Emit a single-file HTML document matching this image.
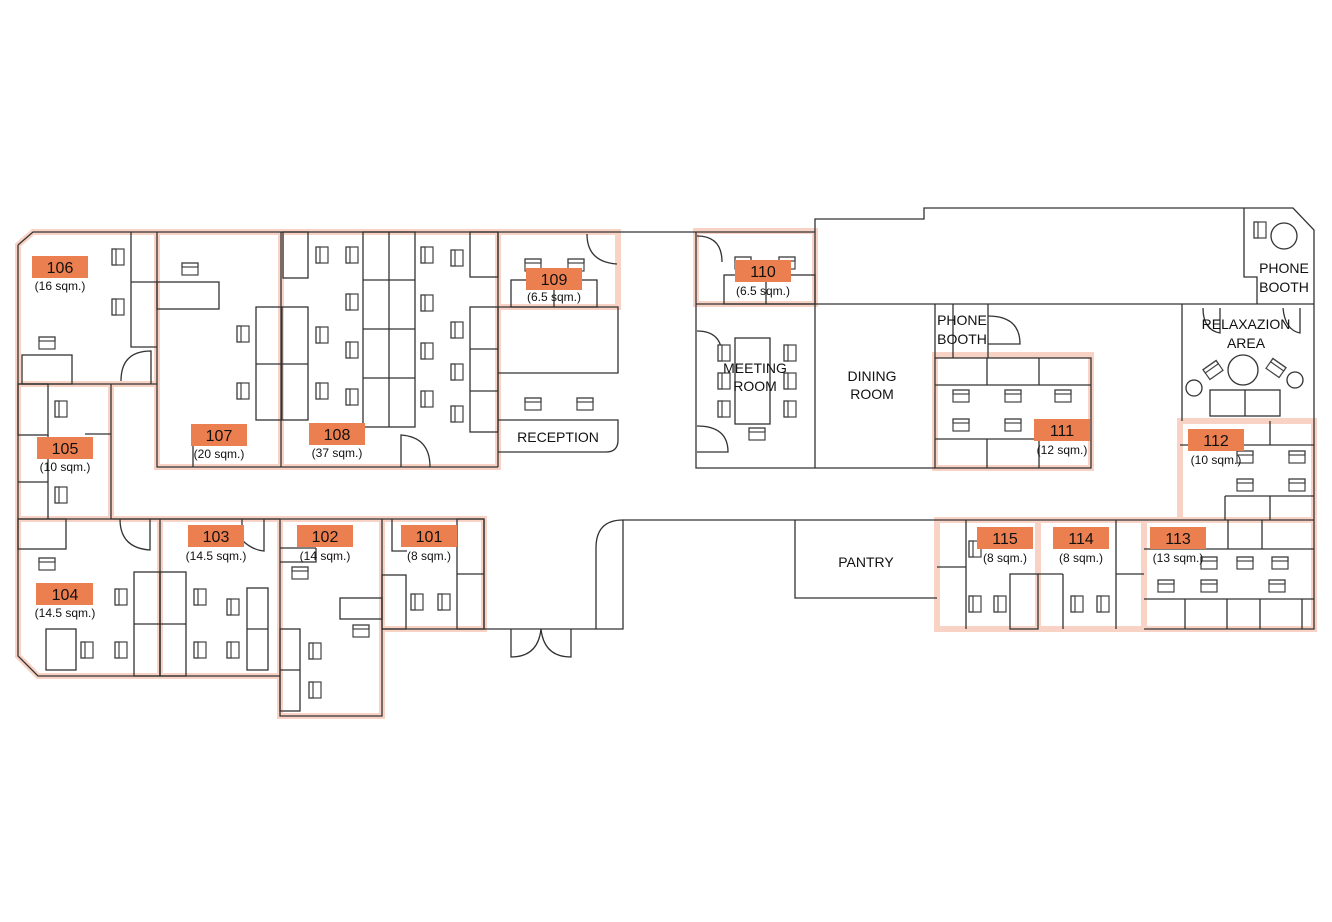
<!DOCTYPE html>
<html><head><meta charset="utf-8"><style>
html,body{margin:0;padding:0;background:#fff;}
svg{display:block;}
text{font-family:"Liberation Sans",sans-serif;fill:#111;}
.n{font-size:16px;text-anchor:middle;}
.s{font-size:12px;text-anchor:middle;}
.l{font-size:14px;text-anchor:middle;}
.w{fill:none;stroke:#333;stroke-width:1.3;}
.h{fill:none;stroke:#f8d3c5;stroke-width:6;}
.b{fill:#ec7f4f;}
</style></head><body>
<svg width="1332" height="922" viewBox="0 0 1332 922" xmlns="http://www.w3.org/2000/svg">
<defs>
<g id="cv"><rect x="-6" y="-8" width="12" height="16" fill="#fff" stroke="#444" stroke-width="1.2"/><rect x="-6" y="-8" width="4" height="16" fill="none" stroke="#444" stroke-width="1.2"/></g>
<g id="ch"><rect x="-8" y="-6" width="16" height="12" fill="#fff" stroke="#444" stroke-width="1.2"/><rect x="-8" y="-6" width="16" height="4" fill="none" stroke="#444" stroke-width="1.2"/></g>
</defs>

<g class="h">
<path d="M18,245 L33,232 L157,232 L157,384 L18,384 Z"/>
<rect x="157" y="232" width="124" height="235"/>
<rect x="281" y="232" width="217" height="235"/>
<path d="M498,232 L618,232 L618,307 L498,307 Z"/>
<rect x="18" y="384" width="93" height="135"/>
<path d="M18,519 L160,519 L160,676 L38,676 L18,656 Z"/>
<rect x="160" y="519" width="120" height="157"/>
<rect x="280" y="519" width="102" height="197"/>
<rect x="382" y="519" width="102" height="110"/>
<rect x="696" y="231" width="119" height="73"/>
<rect x="935" y="355" width="156" height="113"/>
<rect x="1180" y="421" width="134" height="99"/>
<rect x="937" y="520" width="101" height="109"/>
<rect x="1038" y="520" width="106" height="109"/>
<rect x="1144" y="520" width="170" height="109"/>
</g>

<g class="w">
<path d="M18,245 L33,232 L617,232 L696,232"/>
<path d="M18,245 L18,656 L38,676 L280,676 L280,716 L382,716 L382,629 L484,629 L484,519"/>
<path d="M484,629 L623,629 L623,520 L1314,520"/>
<path d="M623,520 Q596,520 596,548 L596,629"/>
<path d="M815,304 L815,219 L924,219 L924,208 L1293,208 L1314,230 L1314,629 L1144,629"/>
<path d="M696,232 L815,232"/>
<path d="M696,232 L696,468 L935,468"/>
<path d="M696,304 L1314,304"/>
<path d="M815,304 L815,468"/>
<rect x="935" y="358" width="156" height="110"/>
<path d="M935,304 L935,358 M953,304 L953,358 M988,304 L988,358"/>
<path d="M988,316 Q1020,316 1020,344 L988,344"/>
<path d="M1182,304 L1182,421"/>
<path d="M1244,208 L1244,277 L1257,277 L1257,304"/>
<path d="M157,232 L157,384 L18,384 M111,384 L111,519 L18,519 M157,384 L157,467 L498,467 M281,232 L281,467 M498,232 L498,467 M160,519 L160,676 M280,519 L280,676 M382,519 L382,629 M18,519 L280,519"/>
<path d="M111,519 L484,519"/>
<path d="M151,384 L151,351 Q121,351 121,381"/>
<path d="M193,467 L193,424"/>
<path d="M401,467 L401,435 Q430,437 430,467"/>
<path d="M120,519 Q120,548 150,550 L150,519"/>
<path d="M242,519 L242,540 Q252,550 264,551 L264,519"/>
<path d="M498,307 L618,307 L618,373 L498,373"/>
<path d="M498,420 L618,420 L618,440 Q618,452 606,452 L498,452"/>
<path d="M587,234 Q587,262 617,264"/>
<path d="M511,629 L511,657 Q538,657 541,629 Q544,657 571,657 L571,629"/>
<path d="M697,236 Q722,236 722,262 M697,331 Q722,331 722,356 M697,426 Q728,426 728,452 L697,452"/>
<path d="M131,232 L131,282 L157,282 M131,282 L131,347 L157,347"/>
<rect x="22" y="355" width="50" height="29"/>
<rect x="157" y="282" width="62" height="27"/>
<rect x="256" y="307" width="52" height="113"/><path d="M256,364 L308,364 M282,307 L282,420"/>
<rect x="283" y="232" width="25" height="46"/>
<rect x="363" y="232" width="52" height="195"/><path d="M389,232 L389,427 M363,280 L415,280 M363,329 L415,329 M363,378 L415,378"/>
<rect x="470" y="232" width="28" height="45"/>
<rect x="470" y="307" width="28" height="125"/><path d="M470,349 L498,349 M470,391 L498,391"/>
<rect x="511" y="280" width="86" height="27"/><path d="M554,280 L554,307"/>
<rect x="18" y="384" width="30" height="51"/><path d="M48,435 L48,519 M18,482 L48,482 M85,434 L111,434"/>
<rect x="18" y="519" width="48" height="30"/>
<rect x="46" y="629" width="30" height="41"/>
<rect x="134" y="572" width="26" height="104"/><path d="M134,624 L160,624"/>
<rect x="160" y="572" width="26" height="104"/><path d="M160,624 L186,624"/>
<rect x="247" y="588" width="21" height="82"/><path d="M247,629 L268,629"/>
<path d="M280,562 L316,562 L316,548 M280,548 L316,548"/>
<rect x="340" y="598" width="42" height="21"/>
<rect x="280" y="629" width="20" height="82"/><path d="M280,670 L300,670"/>
<rect x="382" y="575" width="24" height="54"/>
<rect x="457" y="519" width="27" height="110"/><path d="M457,574 L484,574"/>
<path d="M392,519 L392,551 L407,551"/>
<rect x="724" y="275" width="91" height="29"/><path d="M766,275 L766,304"/>
<rect x="735" y="338" width="35" height="86"/>
<path d="M935,385 L1091,385 M935,439 L1034,439 M987,358 L987,385 M1039,358 L1039,385 M987,439 L987,468 M1039,441 L1039,468"/>
<path d="M1203,308 Q1203,330 1220,333 L1220,308 M1283,308 Q1285,330 1300,333 L1300,308"/>
<circle cx="1243" cy="370" r="15"/>
<circle cx="1194" cy="388" r="8"/><circle cx="1295" cy="380" r="8"/>
<rect x="1210" y="390" width="70" height="26"/><path d="M1245,390 L1245,416"/>
<circle cx="1284" cy="236" r="13"/>
<path d="M1180,445 L1314,445 M1270,421 L1270,445 M1225,496 L1314,496 M1225,496 L1225,520 M1270,496 L1270,520"/>
<path d="M795,520 L795,598 L937,598"/>
<path d="M937,567 L966,567 M966,520 L966,629"/>
<rect x="1010" y="574" width="28" height="55"/>
<path d="M1063,574 L1063,629 M1038,574 L1063,574 M1116,520 L1116,629 M1116,574 L1144,574"/>
<path d="M1144,549 L1314,549 M1228,520 L1228,549 M1262,520 L1262,549 M1144,599 L1314,599 M1185,599 L1185,629 M1227,599 L1227,629 M1260,599 L1260,629 M1302,599 L1302,629"/>
</g>

<g>
<use href="#cv" x="118" y="257"/><use href="#cv" x="118" y="307"/><use href="#ch" x="47" y="343"/>
<use href="#ch" x="190" y="269"/><use href="#cv" x="243" y="334"/><use href="#cv" x="243" y="391"/>
<use href="#cv" x="322" y="255"/><use href="#cv" x="352" y="255"/><use href="#cv" x="322" y="335"/><use href="#cv" x="322" y="391"/>
<use href="#cv" x="352" y="302"/><use href="#cv" x="352" y="350"/><use href="#cv" x="352" y="397"/>
<use href="#cv" x="427" y="255"/><use href="#cv" x="457" y="258"/><use href="#cv" x="427" y="303"/><use href="#cv" x="427" y="351"/><use href="#cv" x="427" y="399"/>
<use href="#cv" x="457" y="330"/><use href="#cv" x="457" y="372"/><use href="#cv" x="457" y="414"/>
<use href="#ch" x="533" y="404"/><use href="#ch" x="585" y="404"/>
<use href="#ch" x="533" y="265"/><use href="#ch" x="576" y="265"/>
<use href="#cv" x="61" y="409"/><use href="#cv" x="61" y="495"/>
<use href="#ch" x="47" y="564"/><use href="#cv" x="121" y="597"/><use href="#cv" x="87" y="650"/><use href="#cv" x="121" y="650"/>
<use href="#cv" x="200" y="597"/><use href="#cv" x="233" y="607"/><use href="#cv" x="200" y="650"/><use href="#cv" x="233" y="650"/>
<use href="#ch" x="300" y="573"/><use href="#ch" x="361" y="631"/><use href="#cv" x="315" y="651"/><use href="#cv" x="315" y="690"/>
<use href="#cv" x="417" y="602"/><use href="#cv" x="444" y="602"/>
<use href="#ch" x="743" y="263"/><use href="#ch" x="787" y="263"/>
<use href="#cv" x="724" y="353"/><use href="#cv" x="724" y="381"/><use href="#cv" x="724" y="409"/>
<use href="#cv" x="790" y="353"/><use href="#cv" x="790" y="381"/><use href="#cv" x="790" y="409"/><use href="#ch" x="757" y="434"/>
<use href="#ch" x="961" y="396"/><use href="#ch" x="1013" y="396"/><use href="#ch" x="1063" y="396"/><use href="#ch" x="961" y="425"/><use href="#ch" x="1013" y="425"/>
<use href="#cv" x="1260" y="230"/>
<use href="#ch" x="1213" y="370" transform="rotate(-35 1213 370)"/><use href="#ch" x="1276" y="368" transform="rotate(35 1276 368)"/>
<use href="#ch" x="1245" y="457"/><use href="#ch" x="1297" y="457"/><use href="#ch" x="1245" y="485"/><use href="#ch" x="1297" y="485"/>
<use href="#cv" x="975" y="549"/><use href="#cv" x="975" y="604"/><use href="#cv" x="1000" y="604"/>
<use href="#cv" x="1077" y="604"/><use href="#cv" x="1103" y="604"/>
<use href="#ch" x="1209" y="563"/><use href="#ch" x="1245" y="563"/><use href="#ch" x="1280" y="563"/>
<use href="#ch" x="1166" y="586"/><use href="#ch" x="1209" y="586"/><use href="#ch" x="1277" y="586"/>
</g>

<g>
<rect class="b" x="32" y="256" width="56" height="22"/><text class="n" x="60" y="273">106</text><text class="s" x="60" y="290">(16 sqm.)</text>
<rect class="b" x="191" y="424" width="56" height="22"/><text class="n" x="219" y="441">107</text><text class="s" x="219" y="458">(20 sqm.)</text>
<rect class="b" x="309" y="423" width="56" height="22"/><text class="n" x="337" y="440">108</text><text class="s" x="337" y="457">(37 sqm.)</text>
<rect class="b" x="526" y="268" width="56" height="22"/><text class="n" x="554" y="285">109</text><text class="s" x="554" y="301">(6.5 sqm.)</text>
<rect class="b" x="37" y="437" width="56" height="22"/><text class="n" x="65" y="454">105</text><text class="s" x="65" y="471">(10 sqm.)</text>
<rect class="b" x="36" y="583" width="57" height="22"/><text class="n" x="65" y="600">104</text><text class="s" x="65" y="617">(14.5 sqm.)</text>
<rect class="b" x="188" y="525" width="56" height="22"/><text class="n" x="216" y="542">103</text><text class="s" x="216" y="560">(14.5 sqm.)</text>
<rect class="b" x="297" y="525" width="56" height="22"/><text class="n" x="325" y="542">102</text><text class="s" x="325" y="560">(14 sqm.)</text>
<rect class="b" x="401" y="525" width="56" height="22"/><text class="n" x="429" y="542">101</text><text class="s" x="429" y="560">(8 sqm.)</text>
<rect class="b" x="735" y="260" width="56" height="22"/><text class="n" x="763" y="277">110</text><text class="s" x="763" y="295">(6.5 sqm.)</text>
<rect class="b" x="1034" y="419" width="56" height="22"/><text class="n" x="1062" y="436">111</text><text class="s" x="1062" y="454">(12 sqm.)</text>
<rect class="b" x="1188" y="429" width="56" height="22"/><text class="n" x="1216" y="446">112</text><text class="s" x="1216" y="464">(10 sqm.)</text>
<rect class="b" x="977" y="527" width="56" height="22"/><text class="n" x="1005" y="544">115</text><text class="s" x="1005" y="562">(8 sqm.)</text>
<rect class="b" x="1053" y="527" width="56" height="22"/><text class="n" x="1081" y="544">114</text><text class="s" x="1081" y="562">(8 sqm.)</text>
<rect class="b" x="1150" y="527" width="56" height="22"/><text class="n" x="1178" y="544">113</text><text class="s" x="1178" y="562">(13 sqm.)</text>
</g>
<text class="l" x="558" y="442">RECEPTION</text>
<text class="l" x="755" y="373">MEETING</text><text class="l" x="755" y="391">ROOM</text>
<text class="l" x="872" y="381">DINING</text><text class="l" x="872" y="399">ROOM</text>
<text class="l" x="962" y="325">PHONE</text><text class="l" x="962" y="344">BOOTH</text>
<text class="l" x="1284" y="273">PHONE</text><text class="l" x="1284" y="292">BOOTH</text>
<text class="l" x="1246" y="329">RELAXAZION</text><text class="l" x="1246" y="348">AREA</text>
<text class="l" x="866" y="567">PANTRY</text>
</svg>
</body></html>
